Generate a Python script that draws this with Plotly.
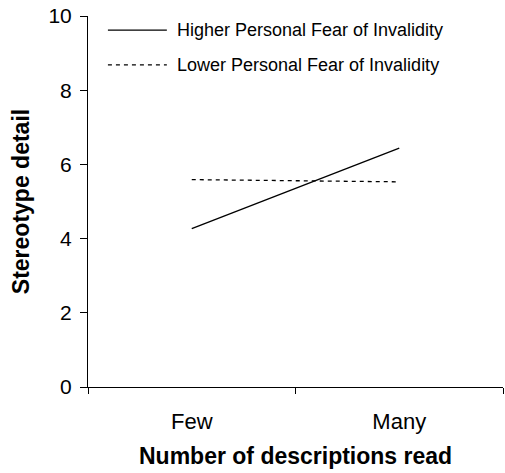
import plotly.graph_objects as go

categories = ["Few", "Many"]
higher_fear = [4.27, 6.44]
lower_fear = [5.59, 5.53]
series_names = ["Higher Personal Fear of Invalidity", "Lower Personal Fear of Invalidity"]
y_ticks = [0, 2, 4, 6, 8, 10]
x_title = "Number of descriptions read"
y_title = "Stereotype detail"

FONT = "Liberation Sans, Arial, sans-serif"
x_idx = list(range(len(categories)))
DASH = "4px,4px"

fig = go.Figure()
fig.add_trace(go.Scatter(x=x_idx, y=higher_fear, mode="lines", name=series_names[0],
                         line=dict(color="black", width=1.3), showlegend=False))
fig.add_trace(go.Scatter(x=x_idx, y=lower_fear, mode="lines", name=series_names[1],
                         line=dict(color="black", width=1.3, dash=DASH), showlegend=False))

# manual legend (paper coordinates)
legend_rows = [(0.962, None), (0.868, DASH)]
for (yp, dash), name in zip(legend_rows, series_names):
    fig.add_shape(type="line", xref="paper", yref="paper", x0=0.048, x1=0.19, y0=yp, y1=yp,
                  line=dict(color="black", width=1.3, dash=dash))
    fig.add_annotation(xref="paper", yref="paper", x=0.21, y=yp, xanchor="left", yanchor="middle",
                       text=name, showarrow=False, font=dict(size=18, family=FONT, color="black"))

# x-axis title as annotation for precise placement
fig.add_annotation(xref="paper", yref="paper", x=0.5, y=-0.186, xanchor="center", yanchor="middle",
                   text=f"<b>{x_title}</b>", showarrow=False, font=dict(size=23, family=FONT, color="black"))

fig.update_layout(
    width=505, height=473,
    margin=dict(l=88, r=2, t=16, b=86),
    plot_bgcolor="white", paper_bgcolor="white",
    font=dict(family=FONT, color="black"),
    showlegend=False,
    xaxis=dict(
        range=[-0.5, 1.5], automargin=False,
        tickmode="array", tickvals=x_idx, ticktext=categories,
        ticks="", showline=True, linecolor="black", linewidth=1,
        tickfont=dict(size=22), showgrid=False, zeroline=False, ticklabelstandoff=15,
        minor=dict(tickvals=[-0.5, 0.5, 1.5], ticks="outside", ticklen=6, tickcolor="black", showgrid=False),
    ),
    yaxis=dict(
        range=[0, 10], tickvals=y_ticks, automargin=False,
        ticks="outside", ticklen=7, tickcolor="black",
        showline=True, linecolor="black", linewidth=1, ticklabelstandoff=4,
        tickfont=dict(size=21), showgrid=False, zeroline=False,
        title=dict(text=f"<b>{y_title}</b>", font=dict(size=23), standoff=12),
    ),
)

fig.write_html("out.html", config={"displayModeBar": False},
               post_script="document.body.style.margin='0';")
